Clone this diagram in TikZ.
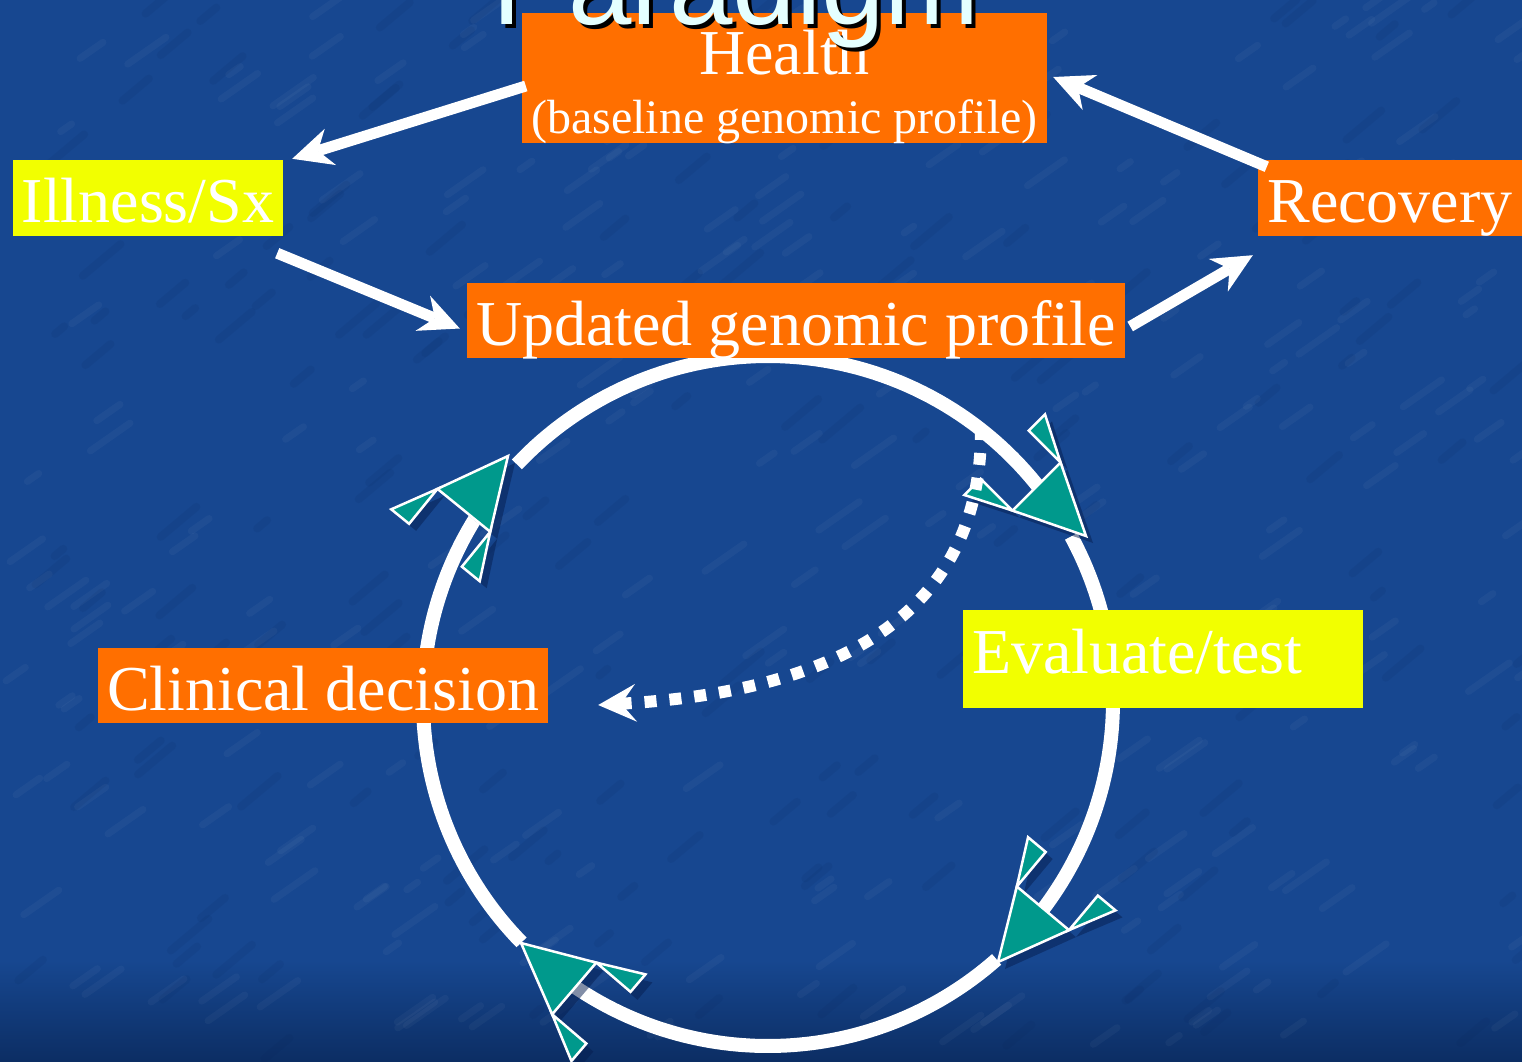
\documentclass[tikz,border=0pt]{standalone}
\usepackage{fontspec}
\setmainfont{Liberation Serif}
\newfontfamily\titlefont{Liberation Sans}
\usetikzlibrary{arrows.meta,calc}
\definecolor{bgblue}{RGB}{23,71,144}
\definecolor{bgdeep}{RGB}{12,46,100}
\definecolor{boxorange}{RGB}{255,111,0}
\definecolor{boxyellow}{RGB}{242,255,0}
\definecolor{tealarrow}{RGB}{0,153,140}
\definecolor{titlecyan}{RGB}{228,255,255}
\definecolor{shadecol}{RGB}{6,30,80}
\tikzset{
  box/.style={inner sep=0pt, text=white, font=\fontsize{64}{64}\selectfont, text depth=0pt},
  orangebox/.style={box, fill=boxorange},
  yellowbox/.style={box, fill=boxyellow},
  plaintext/.style={inner sep=0pt, text=white},
  warrow/.style={draw=white, line width=11pt, -{Stealth[length=40pt,width=38pt,inset=13pt,line width=0pt]}},
  dotline/.style={draw=white, line width=12pt, dash pattern=on 12pt off 13pt, -{Stealth[length=38pt,width=38pt,inset=15pt,line width=0pt]}},
  ring/.style={draw=white, line width=14pt},
  fletchpart/.style={fill=tealarrow, draw=white, line width=2.5pt, line join=miter},
  fletch/.pic={
    \path[fletchpart] (-70,34) -- (-115,57) -- (-115,34) -- cycle;
    \path[fletchpart] (-70,-34) -- (-115,-57) -- (-115,-34) -- cycle;
    \path[fletchpart] (0,0) -- (-70,34) -- (-70,-34) -- cycle;
  },
  fletchshadow/.pic={
    \fill[shadecol, fill opacity=0.5] (0,0) -- (-70,34) -- (-115,57) -- (-115,34) -- (-70,34) -- (-70,-34)
      -- (-115,-34) -- (-115,-57) -- (-70,-34) -- cycle;
  }
}
\begin{document}
\begin{tikzpicture}[x=1pt,y=-1pt]
\useasboundingbox (0,0) rectangle (1522,1061);
% background
\fill[bgblue] (0,0) rectangle (1522,1061);
\shade[top color=bgblue, bottom color=bgdeep] (0,960) rectangle (1522,1061);
\pgfmathsetseed{12}
\foreach \i in {1,...,260} {
  \pgfmathsetmacro\px{rnd*1522}
  \pgfmathsetmacro\py{rnd*1061}
  \pgfmathsetmacro\ln{10+rnd*40}
  \draw[white, opacity=0.035, line width=7pt, line cap=round] (\px,\py) -- ++(-35:\ln);
}
\foreach \i in {1,...,180} {
  \pgfmathsetmacro\px{rnd*1522}
  \pgfmathsetmacro\py{rnd*1061}
  \pgfmathsetmacro\ln{10+rnd*40}
  \draw[shadecol, opacity=0.08, line width=8pt, line cap=round] (\px,\py) -- ++(-40:\ln);
}

% cycle ring (centre 768,701, radius 345)
\coordinate (cc) at (768,701);
\draw[ring] plot[domain=48.5:124.3, samples=60] ({768+345*cos(\x)},{701+345*sin(\x)});
\draw[ring] plot[domain=135.6:212.2, samples=60] ({768+345*cos(\x)},{701+345*sin(\x)});
\draw[ring] plot[domain=223.3:322.5, samples=70] ({768+345*cos(\x)},{701+345*sin(\x)});
\draw[ring] plot[domain=331.5:397.5, samples=60] ({768+345*cos(\x)},{701+345*sin(\x)});

% teal arrowheads
\pic[rotate=50.9] at (515,463) {fletchshadow};
\pic[rotate=50.9] at (508,456) {fletch};
\pic[rotate=-45] at (1093,543) {fletchshadow};
\pic[rotate=-45] at (1086,536) {fletch};
\pic[rotate=-129.9] at (1005,969) {fletchshadow};
\pic[rotate=-129.9] at (998,962) {fletch};
\pic[rotate=139.5] at (528,951) {fletchshadow};
\pic[rotate=139.5] at (521,943) {fletch};

% boxes
\node[orangebox, minimum width=525pt, minimum height=130pt] (health) at (784.5,78) {};
\node[plaintext, anchor=base, font=\fontsize{64}{64}\selectfont] (healthA) at (784.5,74) {Health};
\node[plaintext, anchor=base, font=\fontsize{48}{48}\selectfont] (healthB) at (784.5,133) {(baseline genomic profile)};
\node[yellowbox, minimum width=270pt, minimum height=76pt, text height=48pt] (ill) at (148,198) {Illness/Sx};
\node[orangebox, minimum width=264pt, minimum height=76pt, text height=48pt] (rec) at (1390,198) {Recovery};
\node[orangebox, minimum width=658pt, minimum height=75pt, text height=49pt] (upd) at (796,320.5) {Updated genomic profile};
\node[orangebox, minimum width=450pt, minimum height=75pt, text height=49pt] (clin) at (323,685.5) {Clinical decision};
\node[yellowbox, minimum width=400pt, minimum height=98pt] (eval) at (1163,659) {};
\node[plaintext, anchor=base west, font=\fontsize{64}{64}\selectfont] (evaltext) at ($(eval.west)+(9,14)$) {Evaluate/test};

% dotted arrow
\coordinate (dstart) at (981,428);
\coordinate (dend) at ($(clin.east)+(50,19.5)$);
\draw[dotline] (dstart) .. controls (982,600) and (860,690) .. (dend);

% white arrows
\draw[warrow] ($(health.west)+(4,8)$) -- ($(ill.north east)+(9,-1)$);
\draw[warrow] ($(ill.south east)+(-6,17)$) -- ($(upd.west)+(-7,8)$);
\draw[warrow] ($(upd.east)+(5,6)$) -- ($(rec.south west)+(-5,19)$);
\draw[warrow] ($(rec.north west)+(9,7)$) -- ($(health.east)+(6,-1)$);

% title (partly cut off at the top)
\node[inner sep=0pt, anchor=base, text=black, font=\titlefont\fontsize{114}{114}\selectfont] (titleshadow) at (740,28) {Paradigm};
\node[inner sep=0pt, anchor=base, text=titlecyan, font=\titlefont\fontsize{114}{114}\selectfont] (title) at (736,24) {Paradigm};
\end{tikzpicture}
\end{document}
